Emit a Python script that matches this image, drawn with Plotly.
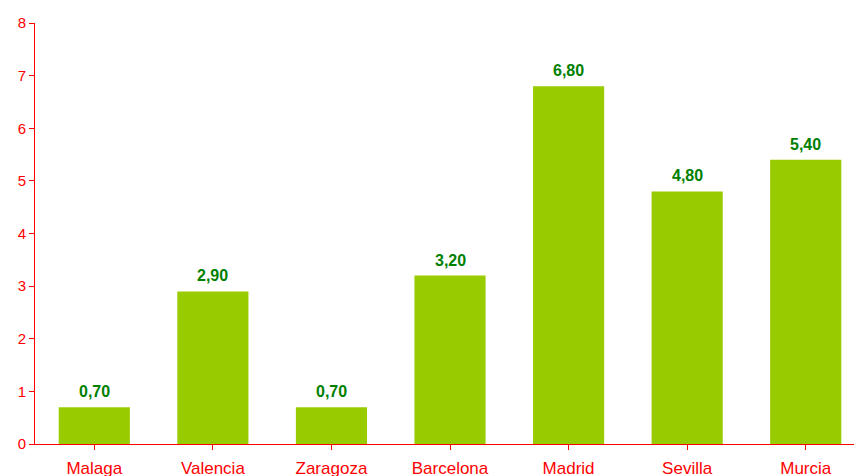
import plotly.graph_objects as go

cities = ["Malaga", "Valencia", "Zaragoza", "Barcelona", "Madrid", "Sevilla", "Murcia"]
values = [0.70, 2.90, 0.70, 3.20, 6.80, 4.80, 5.40]
y_ticks = [0, 1, 2, 3, 4, 5, 6, 7, 8]

RED = "#FF0000"
BAR = "#99CC00"
LABEL = "#008000"

labels = [f"{v:.2f}".replace(".", ",") for v in values]

fig = go.Figure(
    go.Bar(
        x=list(range(len(cities))),
        y=values,
        width=0.6,
        marker=dict(color=BAR, line=dict(width=0)),
        hoverinfo="skip",
    )
)

for i, (v, t) in enumerate(zip(values, labels)):
    fig.add_annotation(
        x=i, y=v, text=f"<b>{t}</b>", showarrow=False,
        yanchor="bottom", yshift=5,
        font=dict(family="Liberation Sans, Arial", size=16, color=LABEL),
    )

fig.update_layout(
    width=854, height=476,
    margin=dict(l=35, r=0, t=23, b=32),
    paper_bgcolor="white", plot_bgcolor="white",
    showlegend=False,
    font=dict(family="Liberation Sans, Arial", color=RED),
)

fig.update_xaxes(
    range=[-0.5, 6.407],
    tickmode="array",
    tickvals=list(range(len(cities))),
    ticktext=cities,
    tickson="boundaries",
    ticks="outside", ticklen=5, tickcolor=RED, tickwidth=1,
    ticklabelstandoff=4,
    automargin=False,
    showline=True, linecolor=RED, linewidth=1,
    showgrid=False, zeroline=False,
    tickfont=dict(size=17, color=RED),
)

fig.update_yaxes(
    range=[0, 8],
    tickmode="array", tickvals=y_ticks,
    ticks="outside", ticklen=5, tickcolor=RED, tickwidth=1,
    automargin=False,
    showline=True, linecolor=RED, linewidth=1,
    showgrid=False, zeroline=False,
    tickfont=dict(size=15, color=RED),
)

fig.write_html("out.html")
